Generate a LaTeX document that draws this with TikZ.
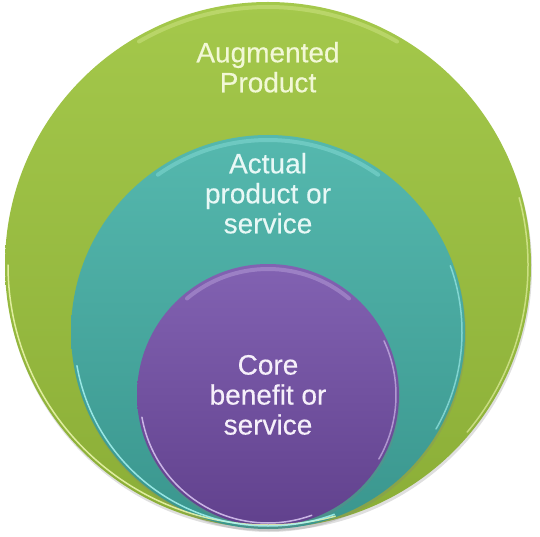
\documentclass[tikz,border=0pt]{standalone}
\usepackage{fontspec}
\setmainfont{Liberation Sans}
\newfontfamily\lblfont{Liberation Sans}[FakeBold=0.3]
\usetikzlibrary{positioning,calc,shadows}

\definecolor{augTop}{HTML}{A4C84B}
\definecolor{augBot}{HTML}{8BAE37}
\definecolor{augRim}{HTML}{EEF8B0}
\definecolor{augText}{HTML}{F2F8D6}
\definecolor{actTop}{HTML}{55B8AE}
\definecolor{actBot}{HTML}{3A968E}
\definecolor{actRim}{HTML}{A8F4F2}
\definecolor{actText}{HTML}{E8F8F6}
\definecolor{coreTop}{HTML}{8262B2}
\definecolor{coreBot}{HTML}{61418D}
\definecolor{coreRim}{HTML}{DCC8F4}
\definecolor{coreText}{HTML}{F6F0FA}

\begin{document}
\begin{tikzpicture}[
  x=1pt,y=1pt,
  ring/.style={circle,inner sep=0pt,outer sep=0pt,
    drop shadow={shadow xshift=1pt,shadow yshift=-3pt,opacity=.25}},
  lbl/.style={inner sep=0pt,outer sep=0pt,align=center,
    font=\lblfont\fontsize{28}{30}\selectfont},
  rim/.style={line width=1.5pt,line cap=round,opacity=.85},
  gloss/.style={line width=4pt,line cap=round,opacity=.3}
]
\useasboundingbox (0,0) rectangle (540,536);

\node[ring,minimum size=526pt,top color=augTop,bottom color=augBot] (aug) at (268,271) {};
\node[ring,minimum size=394pt,top color=actTop,bottom color=actBot] (act) at (268,204) {};
\node[ring,minimum size=262pt,top color=coreTop,bottom color=coreBot] (core) at (268,141) {};

% glossy rims
\draw[rim,draw=augRim] ($(aug.center)+(180:260pt)$) arc[start angle=180,end angle=285,radius=260pt];
\draw[rim,draw=augRim,opacity=.6] ($(aug.center)+(-40:260pt)$) arc[start angle=-40,end angle=15,radius=260pt];
\draw[gloss,draw=augRim] ($(aug.center)+(60:258pt)$) arc[start angle=60,end angle=120,radius=258pt];
\draw[rim,draw=actRim] ($(act.center)+(190:194pt)$) arc[start angle=190,end angle=290,radius=194pt];
\draw[rim,draw=actRim,opacity=.6] ($(act.center)+(-30:194pt)$) arc[start angle=-30,end angle=20,radius=194pt];
\draw[gloss,draw=actRim] ($(act.center)+(55:192pt)$) arc[start angle=55,end angle=125,radius=192pt];
\draw[rim,draw=coreRim] ($(core.center)+(190:128pt)$) arc[start angle=190,end angle=290,radius=128pt];
\draw[rim,draw=coreRim,opacity=.6] ($(core.center)+(-30:128pt)$) arc[start angle=-30,end angle=25,radius=128pt];
\draw[gloss,draw=coreRim] ($(core.center)+(50:126pt)$) arc[start angle=50,end angle=130,radius=126pt];

\node[lbl,text=augText,below=40pt of aug.north] (augtxt) {Augmented\\Product};
\node[lbl,text=actText,below=18pt of act.north] (acttxt) {Actual\\product or\\service};
\node[lbl,text=coreText,below=91pt of core.north] (coretxt) {Core\\benefit or\\service};
\end{tikzpicture}
\end{document}
